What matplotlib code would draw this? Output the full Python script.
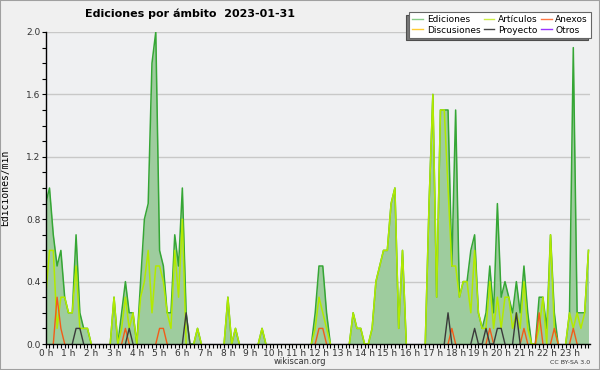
import numpy as np
import matplotlib
matplotlib.use("Agg")
import matplotlib.pyplot as plt
from matplotlib.lines import Line2D
from matplotlib.patches import Rectangle
from matplotlib.ticker import MultipleLocator

# ediciones por minuto, pasos de 10 min (una fila = una hora)
ediciones = [
    0.9, 1.0, 0.7, 0.5, 0.6, 0.3,
    0.2, 0.2, 0.7, 0.2, 0.1, 0.1,
    0, 0, 0, 0, 0, 0,
    0.3, 0, 0.2, 0.4, 0.2, 0.2,
    0, 0.4, 0.8, 0.9, 1.8, 2.0,
    0.6, 0.5, 0.2, 0.2, 0.7, 0.5,
    1.0, 0.2, 0, 0, 0.1, 0,
    0, 0, 0, 0, 0, 0,
    0.3, 0, 0.1, 0, 0, 0,
    0, 0, 0, 0.1, 0, 0,
    0, 0, 0, 0, 0, 0,
    0, 0, 0, 0, 0, 0.2,
    0.5, 0.5, 0.2, 0, 0, 0,
    0, 0, 0, 0.2, 0.1, 0.1,
    0, 0, 0.1, 0.4, 0.5, 0.6,
    0.6, 0.9, 1.0, 0.1, 0.6, 0,
    0, 0, 0, 0, 0, 0.9,
    1.6, 0.3, 1.5, 1.5, 1.5, 0.5,
    1.5, 0.3, 0.4, 0.4, 0.6, 0.7,
    0.2, 0.1, 0.2, 0.5, 0.2, 0.9,
    0.3, 0.4, 0.3, 0.2, 0.4, 0.2,
    0.5, 0.2, 0, 0, 0.3, 0.3,
    0.1, 0.7, 0.2, 0, 0, 0,
    0.2, 1.9, 0.2, 0.2, 0.2, 0.6,
]
articulos = [
    0.3, 0.6, 0.6, 0.1, 0.3, 0.3,
    0.2, 0.2, 0.5, 0.1, 0.1, 0.1,
    0, 0, 0, 0, 0, 0,
    0.3, 0, 0.1, 0.3, 0.1, 0.2,
    0, 0.3, 0.4, 0.6, 0.2, 0.5,
    0.5, 0.4, 0.2, 0.1, 0.6, 0.3,
    0.8, 0, 0, 0, 0.1, 0,
    0, 0, 0, 0, 0, 0,
    0.3, 0, 0.1, 0, 0, 0,
    0, 0, 0, 0.1, 0, 0,
    0, 0, 0, 0, 0, 0,
    0, 0, 0, 0, 0, 0.1,
    0.3, 0.2, 0.1, 0, 0, 0,
    0, 0, 0, 0.2, 0.1, 0.1,
    0, 0, 0.1, 0.4, 0.5, 0.6,
    0.6, 0.9, 1.0, 0.1, 0.6, 0,
    0, 0, 0, 0, 0, 0.9,
    1.6, 0.3, 1.5, 1.5, 1.0, 0.5,
    0.5, 0.3, 0.4, 0.4, 0.2, 0.6,
    0.2, 0.1, 0.1, 0.4, 0.1, 0.3,
    0.1, 0.3, 0.3, 0.1, 0.2, 0.1,
    0.4, 0.1, 0, 0, 0.1, 0.3,
    0, 0.7, 0.1, 0, 0, 0,
    0.2, 0.1, 0.2, 0.1, 0.2, 0.6,
]
anexos = [
    0, 0, 0, 0.3, 0.1, 0,
    0, 0, 0, 0, 0, 0,
    0, 0, 0, 0, 0, 0,
    0, 0, 0, 0.1, 0, 0,
    0, 0, 0, 0, 0, 0,
    0.1, 0.1, 0, 0, 0, 0,
    0, 0, 0, 0, 0, 0,
    0, 0, 0, 0, 0, 0,
    0, 0, 0, 0, 0, 0,
    0, 0, 0, 0, 0, 0,
    0, 0, 0, 0, 0, 0,
    0, 0, 0, 0, 0, 0,
    0.1, 0.1, 0, 0, 0, 0,
    0, 0, 0, 0, 0, 0,
    0, 0, 0, 0, 0, 0,
    0, 0, 0, 0, 0, 0,
    0, 0, 0, 0, 0, 0,
    0, 0, 0, 0, 0, 0.1,
    0, 0, 0, 0, 0, 0,
    0, 0, 0, 0.1, 0, 0,
    0, 0, 0, 0, 0, 0,
    0.1, 0, 0, 0, 0.2, 0,
    0, 0, 0.1, 0, 0, 0,
    0, 0.1, 0, 0, 0, 0,
]
proyecto = [
    0, 0, 0, 0, 0, 0,
    0, 0, 0.1, 0.1, 0, 0,
    0, 0, 0, 0, 0, 0,
    0, 0, 0, 0, 0.1, 0,
    0, 0, 0, 0, 0, 0,
    0, 0, 0, 0, 0, 0,
    0, 0.2, 0, 0, 0, 0,
    0, 0, 0, 0, 0, 0,
    0, 0, 0, 0, 0, 0,
    0, 0, 0, 0, 0, 0,
    0, 0, 0, 0, 0, 0,
    0, 0, 0, 0, 0, 0,
    0, 0, 0, 0, 0, 0,
    0, 0, 0, 0, 0, 0,
    0, 0, 0, 0, 0, 0,
    0, 0, 0, 0, 0, 0,
    0, 0, 0, 0, 0, 0,
    0, 0, 0, 0, 0.2, 0,
    0, 0, 0, 0, 0, 0.1,
    0, 0, 0.1, 0, 0, 0.1,
    0.1, 0, 0, 0, 0.2, 0,
    0, 0, 0, 0, 0, 0,
    0, 0, 0, 0, 0, 0,
    0, 0, 0, 0, 0, 0,
]
discusiones = [0] * 144
otros = [0] * 144

horas = [f"{h} h" for h in range(24)]
t = np.arange(len(ediciones)) / 6.0


def trim(v):
    # no dibujar los tramos a cero sobre el eje
    v = np.asarray(v, float)
    keep = v > 0
    keep[1:] |= v[:-1] > 0
    keep[:-1] |= v[1:] > 0
    return np.ma.masked_where(~keep, v)


fig = plt.figure(figsize=(6, 3.7), dpi=100, facecolor="#f0f0f0")
ax = fig.add_axes([45.7 / 600, 26 / 370, 544.3 / 600, 312 / 370])
ax.set_facecolor("#eff0f2")

ax.fill_between(t, ediciones, color="#9ecc9e", lw=0, zorder=1)
ax.plot(t, trim(ediciones), color="#35a635", lw=1.1, zorder=3)
ax.plot(t, trim(articulos), color="#b2ea00", lw=1.1, zorder=4)
ax.plot(t, trim(discusiones), color="#ffcc33", lw=1.0, zorder=4)
ax.plot(t, trim(anexos), color="#f25c19", lw=1.0, zorder=5)
ax.plot(t, trim(proyecto), color="#3a3a3a", lw=1.0, zorder=6)
ax.plot(t, trim(otros), color="#9933ff", lw=1.0, zorder=6)

ax.set_xlim(0, 23.9)
ax.set_ylim(0, 2.0)
ax.set_xticks(range(24))
ax.set_xticklabels(horas)
ax.xaxis.set_minor_locator(MultipleLocator(1 / 6))
ax.yaxis.set_major_locator(MultipleLocator(0.4))
ax.yaxis.set_minor_locator(MultipleLocator(0.1))
ax.yaxis.set_major_formatter(plt.FormatStrFormatter("%.1f"))
ax.tick_params(axis="both", which="major", labelsize=6.5, labelcolor="#333333",
               length=3.2, width=0.8, pad=0.5)
ax.tick_params(axis="both", which="minor", length=2.6, width=0.8)
ax.grid(axis="y", which="major", color="#c8c8c8", lw=1)
ax.set_axisbelow(True)
for s in ["top", "right"]:
    ax.spines[s].set_visible(False)
for s in ["left", "bottom"]:
    ax.spines[s].set_linewidth(1.0)
    ax.spines[s].set_zorder(10)

ax.set_ylabel("Ediciones/min", fontfamily="DejaVu Sans Mono", fontsize=7)
ax.yaxis.set_label_coords(-0.066, 0.5)

fig.text(85 / 600, 1 - 14 / 370, "Ediciones por ámbito  2023-01-31",
         fontsize=8, fontweight="bold", ha="left", va="center")
fig.text(300 / 600, 1 - 362 / 370, "wikiscan.org", fontsize=6,
         color="#333333", ha="center", va="center")
fig.text(590 / 600, 1 - 363 / 370, "CC BY-SA 3.0", fontsize=4.5,
         color="#333333", ha="right", va="center")

handles = [
    Line2D([], [], color="#88cc88", lw=1),
    Line2D([], [], color="#ffcc33", lw=1),
    Line2D([], [], color="#ccee44", lw=1),
    Line2D([], [], color="#444444", lw=1),
    Line2D([], [], color="#ff7744", lw=1),
    Line2D([], [], color="#9933ff", lw=1),
]
labels = ["Ediciones", "Discusiones", "Artículos", "Proyecto", "Anexos", "Otros"]
leg = fig.legend(handles, labels, ncol=3, loc="upper right",
                 bbox_to_anchor=(591 / 600, 1 - 12 / 370), fontsize=6.5,
                 frameon=True, fancybox=False, edgecolor="#666666",
                 handlelength=1.2, handletextpad=0.4, columnspacing=0.35,
                 labelspacing=0.15, borderpad=0.35, borderaxespad=0,
                 shadow={"ox": -2, "oy": -2, "facecolor": "#777777", "alpha": 1})
leg.get_frame().set_linewidth(0.8)

fig.patches.append(Rectangle((0, 0), 1, 1, transform=fig.transFigure,
                             fill=False, edgecolor="#a0a0a0", lw=1.5))

fig.savefig("out.png", dpi=100, facecolor=fig.get_facecolor())
